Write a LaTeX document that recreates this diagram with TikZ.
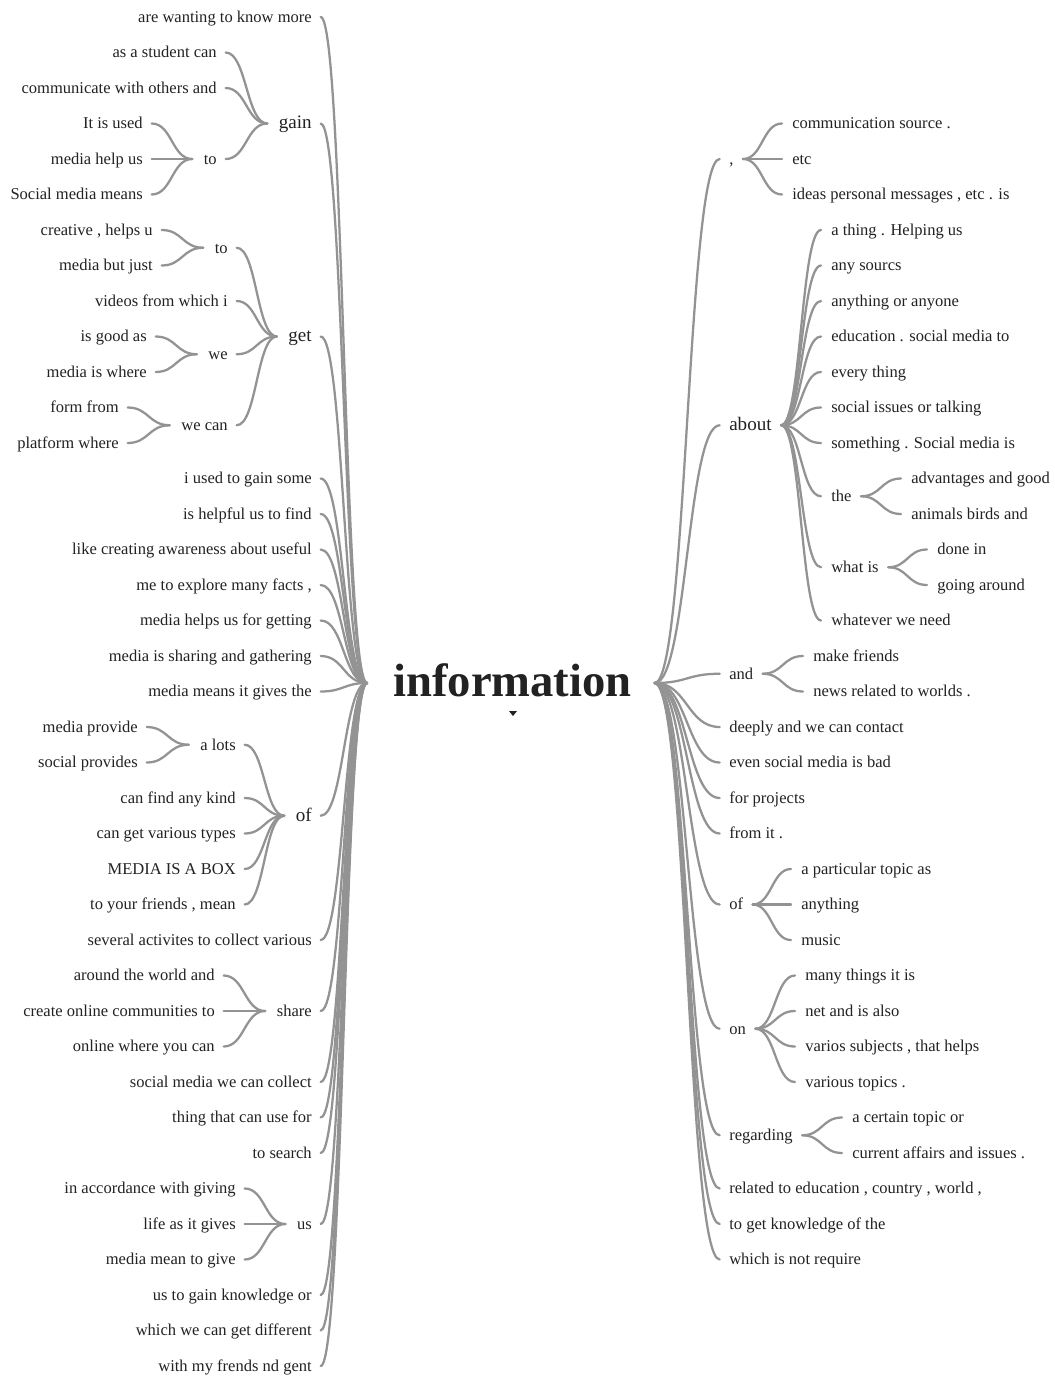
\documentclass[tikz,border=0pt]{standalone}
\usepackage{fontspec}
\setmainfont{Liberation Serif}
\usetikzlibrary{calc}
\definecolor{tx}{HTML}{222222}
\definecolor{lc}{HTML}{939393}
\newcommand\ftleaf{\fontsize{12.4}{14}\selectfont}
\newcommand\ftbig{\fontsize{14.3}{16}\selectfont}
\newcommand\ftroot{\fontsize{35}{40}\selectfont\bfseries}
% left side: child (left) -> parent (right)
\newcommand\wlinkL[2]{\draw[lnk] let \p1=([shift={(6.5pt,4.1pt)}]#1.base east), \p2=([shift={(-8.5pt,4.1pt)}]#2.base west) in (\p1) .. controls ({0.5*\x1+0.5*\x2},\y1) and ({0.5*\x1+0.5*\x2},\y2) .. (\p2);}
% right side: parent (left) -> child (right)
\newcommand\wlinkR[2]{\draw[lnk] let \p1=([shift={(7pt,4.1pt)}]#1.base east), \p2=([shift={(-7.5pt,4.1pt)}]#2.base west) in (\p1) .. controls ({0.5*\x1+0.5*\x2},\y1) and ({0.5*\x1+0.5*\x2},\y2) .. (\p2);}
% root links
\newcommand\wlinkRootL[1]{\draw[lnk] let \p1=([shift={(6.5pt,4.1pt)}]#1.base east), \p2=(rl) in (\p1) .. controls ({0.5*\x1+0.5*\x2},\y1) and ({0.5*\x1+0.5*\x2},\y2) .. (\p2);}
\newcommand\wlinkRootR[1]{\draw[lnk] let \p1=(rr), \p2=([shift={(-7pt,4.1pt)}]#1.base west) in (\p1) .. controls ({0.5*\x1+0.5*\x2},\y1) and ({0.5*\x1+0.5*\x2},\y2) .. (\p2);}
\begin{document}
\begin{tikzpicture}[x=0.75pt,y=-0.75pt,
  L/.style={anchor=base east,yshift=-4.1pt,inner sep=0pt,font=\ftleaf,text=tx},
  R/.style={anchor=base west,yshift=-4.1pt,inner sep=0pt,font=\ftleaf,text=tx},
  big/.style={font=\ftbig},
  lnk/.style={draw=lc,line width=1.7pt,line cap=round}]
\useasboundingbox (0,0) rectangle (1055,1378);
\fill[white] (0,0) rectangle (1055,1378);

% root
\node[anchor=base,inner sep=0pt,font=\ftroot,text=tx] (root) at (512.5,696) {information};
\coordinate (rl) at ([shift={(-19.5pt,9.75pt)}]root.base west);
\coordinate (rr) at ([shift={(17pt,9.75pt)}]root.base east);
\fill[tx] (509,711) -- (517,711) -- (513,716) -- cycle;

% ---------- left side ----------
\node[L] (l0) at (312,17) {are wanting to know more};
\node[L] (l1) at (217,52.5) {as a student can};
\node[L] (l2) at (217,88) {communicate with others and};
\node[L] (l3) at (143,123.5) {It is used};
\node[L,big] (gain) at (312,123.5) {gain};
\node[L] (l4) at (143,159) {media help us};
\node[L] (to1) at (217,159) {to};
\node[L] (l5) at (143,194.5) {Social media means};
\node[L] (l6) at (153,230) {creative , helps u};
\node[L] (to2) at (228,247.75) {to};
\node[L] (l7) at (153,265.5) {media but just};
\node[L] (l8) at (228,301) {videos from which i};
\node[L] (l9) at (147,336.5) {is good as};
\node[L,big] (get) at (312,336.5) {get};
\node[L] (we) at (228,354.25) {we};
\node[L] (l10) at (147,372) {media is where};
\node[L] (l11) at (119,407.5) {form from};
\node[L] (wecan) at (228,425.25) {we can};
\node[L] (l12) at (119,443) {platform where};
\node[L] (l13) at (312,478.5) {i used to gain some};
\node[L] (l14) at (312,514) {is helpful us to find};
\node[L] (l15) at (312,549.5) {like creating awareness about useful};
\node[L] (l16) at (312,585) {me to explore many facts ,};
\node[L] (l17) at (312,620.5) {media helps us for getting};
\node[L] (l18) at (312,656) {media is sharing and gathering};
\node[L] (l19) at (312,691.5) {media means it gives the};
\node[L] (l20) at (138,727) {media provide};
\node[L] (alots) at (236,744.75) {a lots};
\node[L] (l21) at (138,762.5) {social provides};
\node[L] (l22) at (236,798) {can find any kind};
\node[L,big] (ofL) at (312,815.75) {of};
\node[L] (l23) at (236,833.5) {can get various types};
\node[L] (l24) at (236,869) {MEDIA IS A BOX};
\node[L] (l25) at (236,904.5) {to your friends , mean};
\node[L] (l26) at (312,940) {several activites to collect various};
\node[L] (l27) at (215,975.5) {around the world and};
\node[L] (l28) at (215,1011) {create online communities to};
\node[L] (share) at (312,1011) {share};
\node[L] (l29) at (215,1046.5) {online where you can};
\node[L] (l30) at (312,1082) {social media we can collect};
\node[L] (l31) at (312,1117.5) {thing that can use for};
\node[L] (l32) at (312,1153) {to search};
\node[L] (l33) at (236,1188.5) {in accordance with giving};
\node[L] (l34) at (236,1224) {life as it gives};
\node[L] (us) at (312,1224) {us};
\node[L] (l35) at (236,1259.5) {media mean to give};
\node[L] (l36) at (312,1295) {us to gain knowledge or};
\node[L] (l37) at (312,1330.5) {which we can get different};
\node[L] (l38) at (312,1366) {with my frends nd gent};

% ---------- right side ----------
\node[R] (comma) at (729,159) {,};
\node[R] (r3) at (792,123.5) {communication source .};
\node[R] (r4) at (792,159) {etc};
\node[R] (r5) at (792,194.5) {ideas personal messages , etc . is};
\node[R,big] (about) at (729,425.25) {about};
\node[R] (r6) at (831,230) {a thing . Helping us};
\node[R] (r7) at (831,265.5) {any sourcs};
\node[R] (r8) at (831,301) {anything or anyone};
\node[R] (r9) at (831,336.5) {education . social media to};
\node[R] (r10) at (831,372) {every thing};
\node[R] (r11) at (831,407.5) {social issues or talking};
\node[R] (r12) at (831,443) {something . Social media is};
\node[R] (the) at (831,496.25) {the};
\node[R] (r13) at (911,478.5) {advantages and good};
\node[R] (r14) at (911,514) {animals birds and};
\node[R] (whatis) at (831,567.25) {what is};
\node[R] (r15) at (937,549.5) {done in};
\node[R] (r16) at (937,585) {going around};
\node[R] (r17) at (831,620.5) {whatever we need};
\node[R] (and) at (729,673.75) {and};
\node[R] (r18) at (813,656) {make friends};
\node[R] (r19) at (813,691.5) {news related to worlds .};
\node[R] (r20) at (729,727) {deeply and we can contact};
\node[R] (r21) at (729,762.5) {even social media is bad};
\node[R] (r22) at (729,798) {for projects};
\node[R] (r23) at (729,833.5) {from it .};
\node[R] (ofR) at (729,904.5) {of};
\node[R] (r24) at (801,869) {a particular topic as};
\node[R] (r25) at (801,904.5) {anything};
\node[R] (r26) at (801,940) {music};
\node[R] (on) at (729,1028.75) {on};
\node[R] (r27) at (805,975.5) {many things it is};
\node[R] (r28) at (805,1011) {net and is also};
\node[R] (r29) at (805,1046.5) {varios subjects , that helps};
\node[R] (r30) at (805,1082) {various topics .};
\node[R] (regarding) at (729,1135.25) {regarding};
\node[R] (r31) at (852,1117.5) {a certain topic or};
\node[R] (r32) at (852,1153) {current affairs and issues .};
\node[R] (r33) at (729,1188.5) {related to education , country , world ,};
\node[R] (r34) at (729,1224) {to get knowledge of the};
\node[R] (r35) at (729,1259.5) {which is not require};

% ---------- connectors: left ----------
\foreach \a in {l1,l2,to1} {\wlinkL{\a}{gain}}
\foreach \a in {l3,l4,l5} {\wlinkL{\a}{to1}}
\foreach \a in {to2,l8,we,wecan} {\wlinkL{\a}{get}}
\foreach \a in {l6,l7} {\wlinkL{\a}{to2}}
\foreach \a in {l9,l10} {\wlinkL{\a}{we}}
\foreach \a in {l11,l12} {\wlinkL{\a}{wecan}}
\foreach \a in {alots,l22,l23,l24,l25} {\wlinkL{\a}{ofL}}
\foreach \a in {l20,l21} {\wlinkL{\a}{alots}}
\foreach \a in {l27,l28,l29} {\wlinkL{\a}{share}}
\foreach \a in {l33,l34,l35} {\wlinkL{\a}{us}}
\foreach \a in {l0,gain,get,l13,l14,l15,l16,l17,l18,l19,ofL,l26,share,l30,l31,l32,us,l36,l37,l38} {\wlinkRootL{\a}}

% ---------- connectors: right ----------
\foreach \a in {comma,about,and,r20,r21,r22,r23,ofR,on,regarding,r33,r34,r35} {\wlinkRootR{\a}}
\foreach \a in {r3,r4,r5} {\wlinkR{comma}{\a}}
\foreach \a in {r6,r7,r8,r9,r10,r11,r12,the,whatis,r17} {\wlinkR{about}{\a}}
\foreach \a in {r13,r14} {\wlinkR{the}{\a}}
\foreach \a in {r15,r16} {\wlinkR{whatis}{\a}}
\foreach \a in {r18,r19} {\wlinkR{and}{\a}}
\foreach \a in {r24,r25,r26} {\wlinkR{ofR}{\a}}
\foreach \a in {r27,r28,r29,r30} {\wlinkR{on}{\a}}
\foreach \a in {r31,r32} {\wlinkR{regarding}{\a}}
\end{tikzpicture}
\end{document}
